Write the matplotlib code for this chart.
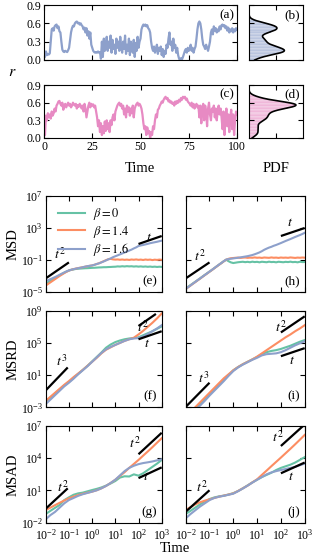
import numpy as np
import matplotlib
matplotlib.use("Agg")
import matplotlib.pyplot as plt

plt.rcParams['font.family'] = 'serif'
plt.rcParams['font.serif'] = ['Liberation Serif', 'DejaVu Serif']
plt.rcParams['mathtext.fontset'] = 'stix'
plt.rcParams['axes.linewidth'] = 0.8

C_GREEN, C_ORANGE, C_BLUE, C_PINK = '#66c2a5', '#fc8d62', '#8da0cb', '#e78ac3'

# ---------------- time series data (time step 0.5) ----------------
time_r = np.arange(0, 100.01, 0.5)
r_a = [0.12, 0.05, 0.14, 0.08, 0.10, 0.09, 0.11,
       0.30, 0.50, 0.52, 0.48, 0.55, 0.57, 0.58, 0.52, 0.55, 0.47, 0.45, 0.30, 0.17,
       0.14, 0.13, 0.15, 0.14, 0.13, 0.16, 0.20,
       0.32, 0.45, 0.52, 0.56, 0.55, 0.60, 0.62, 0.63, 0.60, 0.61, 0.58, 0.60, 0.57,
       0.55, 0.50, 0.53, 0.45, 0.52, 0.40, 0.47, 0.35, 0.45, 0.25, 0.20,
       0.15, 0.13, 0.12, 0.13, 0.12, 0.14, 0.12, 0.13,
       0.02, 0.30, 0.05, 0.35, 0.15, 0.22, 0.38, 0.15, 0.30, 0.20, 0.40, 0.12, 0.33, 0.18,
       0.25, 0.10, 0.35, 0.20, 0.30, 0.15, 0.38, 0.22, 0.12, 0.30, 0.18, 0.40, 0.10, 0.25,
       0.15, 0.35, 0.08, 0.30, 0.20, 0.12, 0.33, 0.05, 0.28, 0.15, 0.38, 0.20, 0.30, 0.35,
       0.50, 0.55, 0.58, 0.56, 0.58, 0.55, 0.57, 0.52, 0.50, 0.45, 0.30, 0.20,
       0.15, 0.22, 0.12, 0.18, 0.25, 0.10, 0.20, 0.15, 0.22, 0.08, 0.18, 0.05, 0.15, 0.10,
       0.25, 0.20, 0.35, 0.45, 0.25, 0.30, 0.15, 0.35, 0.20, 0.25, 0.12, 0.20, 0.08, 0.02,
       0.00, 0.03, 0.01, 0.05, 0.10, 0.15,
       0.18, 0.12, 0.20, 0.15, 0.18, 0.25, 0.15, 0.20, 0.12, 0.18, 0.22, 0.35, 0.50, 0.60,
       0.63, 0.60, 0.50, 0.35, 0.25, 0.22,
       0.18, 0.25, 0.20, 0.15, 0.22, 0.30,
       0.45, 0.50, 0.42, 0.55, 0.48, 0.52, 0.45, 0.50, 0.47, 0.55, 0.50, 0.57, 0.58, 0.55,
       0.57, 0.52, 0.55, 0.48, 0.53, 0.45, 0.50, 0.47, 0.52, 0.45, 0.50, 0.47, 0.52, 0.50]
r_c = [0.35, 0.05, 0.38, 0.30, 0.42, 0.35, 0.40, 0.33, 0.45, 0.38, 0.42, 0.50, 0.45, 0.55,
       0.58, 0.62, 0.63, 0.58, 0.55, 0.60, 0.48, 0.55, 0.58, 0.52, 0.56, 0.60, 0.55,
       0.58, 0.52, 0.55, 0.60, 0.57, 0.55, 0.58, 0.50, 0.56, 0.53, 0.58, 0.55, 0.50,
       0.55, 0.45, 0.58, 0.50, 0.35, 0.45, 0.55, 0.60, 0.52, 0.58, 0.55, 0.57, 0.52, 0.55,
       0.45, 0.35,
       0.20, 0.30, 0.10, 0.25, 0.05, 0.20, 0.08, 0.28, 0.12, 0.30, 0.15, 0.25, 0.10, 0.30,
       0.22,
       0.35, 0.40, 0.30, 0.45, 0.50, 0.55, 0.58, 0.60, 0.55, 0.58, 0.50, 0.55, 0.40,
       0.50, 0.35, 0.55, 0.45, 0.52, 0.38, 0.50, 0.42, 0.55, 0.35, 0.50, 0.55,
       0.58, 0.60, 0.55, 0.58, 0.55, 0.50, 0.40, 0.25,
       0.15, 0.20, 0.05, 0.18, 0.08, 0.12, 0.00, 0.10, 0.05, 0.20, 0.15, 0.30,
       0.40, 0.35, 0.48, 0.50, 0.55,
       0.58, 0.62, 0.60, 0.65, 0.68, 0.70, 0.66, 0.68, 0.62, 0.64, 0.60, 0.62,
       0.58, 0.60, 0.55, 0.62, 0.58, 0.63, 0.60, 0.65,
       0.62, 0.68, 0.65, 0.70, 0.68, 0.70, 0.65, 0.67, 0.62, 0.60,
       0.58, 0.55, 0.60, 0.52, 0.58, 0.50, 0.55, 0.58, 0.52, 0.55,
       0.35, 0.55, 0.25, 0.50, 0.58, 0.30, 0.55, 0.45, 0.20, 0.50, 0.60, 0.40,
       0.30, 0.50, 0.45, 0.55, 0.35, 0.50, 0.30, 0.45, 0.55, 0.40, 0.50, 0.35,
       0.15, 0.45, 0.05, 0.30, 0.50, 0.20, 0.40, 0.10, 0.35, 0.48, 0.15, 0.40, 0.05, 0.30,
       0.45, 0.40]

# ---------------- MSD (log10 values, grid step 0.1 in log10 t) ----------------
logt_fine = np.round(np.arange(-2.0, 3.001, 0.1), 2)
msd_e_green = [-3.95, -3.78, -3.60, -3.42, -3.25, -3.08, -2.90, -2.74, -2.58, -2.44, -2.32,
               -2.23, -2.17, -2.12, -2.09, -2.07, -2.05, -2.03, -2.02, -2.00, -1.98,
               -1.97, -1.95, -1.93, -1.92, -1.90, -1.90, -1.88, -1.87, -1.85, -1.84,
               -1.80, -1.82, -1.78, -1.81, -1.77, -1.80, -1.78, -1.82, -1.79, -1.83,
               -1.80, -1.84, -1.81, -1.85, -1.82, -1.86, -1.83, -1.87, -1.84, -1.86]
msd_e_orange = [-4.20, -4.00, -3.80, -3.60, -3.40, -3.20, -3.00, -2.82, -2.64, -2.47, -2.32,
                -2.22, -2.14, -2.07, -2.01, -1.95, -1.90, -1.84, -1.78, -1.73, -1.68,
                -1.60, -1.50, -1.40, -1.28, -1.15, -1.02, -0.90, -0.86, -0.92, -0.95,
                -0.93, -0.97, -0.94, -0.98, -0.95, -0.99, -0.94, -0.97, -0.93, -0.98,
                -0.95, -1.00, -0.94, -0.98, -0.95, -1.01, -0.96, -0.99, -0.95, -0.98]
msd_e_blue = [-3.63, -3.52, -3.40, -3.27, -3.14, -3.00, -2.85, -2.70, -2.56, -2.42, -2.30,
              -2.22, -2.15, -2.08, -2.02, -1.97, -1.90, -1.83, -1.77, -1.72, -1.68,
              -1.60, -1.50, -1.42, -1.30, -1.18, -1.05, -0.92, -0.80, -0.65, -0.53,
              -0.42, -0.30, -0.18, -0.06, 0.05, 0.18, 0.30, 0.45, 0.58, 0.75,
              0.82, 0.88, 0.95, 1.02, 1.10, 1.16, 1.22, 1.28, 1.35, 1.42]
msd_h_green = [-4.55, -4.35, -4.14, -3.93, -3.72, -3.51, -3.30, -3.08, -2.87, -2.66, -2.45,
               -2.24, -2.02, -1.80, -1.58, -1.37, -1.15, -0.97, -1.15, -1.30, -1.38,
               -1.33, -1.28, -1.25, -1.22, -1.27, -1.23, -1.28, -1.21, -1.26, -1.23,
               -1.29, -1.22, -1.25, -1.28, -1.21, -1.26, -1.24, -1.29, -1.22, -1.25,
               -1.28, -1.23, -1.26, -1.21, -1.27, -1.24, -1.29, -1.22, -1.26, -1.25]
msd_h_orange = [-4.62, -4.42, -4.20, -3.98, -3.77, -3.55, -3.34, -3.12, -2.90, -2.69, -2.47,
                -2.26, -2.04, -1.82, -1.60, -1.39, -1.17, -0.96, -0.85, -0.78, -0.75,
                -0.72, -0.70, -0.74, -0.71, -0.69, -0.73, -0.70, -0.72, -0.68, -0.72,
                -0.70, -0.74, -0.69, -0.71, -0.73, -0.68, -0.72, -0.70, -0.74, -0.69,
                -0.72, -0.70, -0.73, -0.68, -0.71, -0.74, -0.70, -0.72, -0.69, -0.71]
msd_h_blue = [-4.60, -4.40, -4.18, -3.96, -3.75, -3.53, -3.32, -3.10, -2.88, -2.67, -2.45,
              -2.24, -2.02, -1.80, -1.58, -1.37, -1.15, -0.95, -0.88, -0.84, -0.80,
              -0.76, -0.72, -0.67, -0.62, -0.57, -0.52, -0.45, -0.38, -0.28, -0.17,
              -0.05, 0.10, 0.28, 0.42, 0.55, 0.65, 0.78, 0.88, 1.00, 1.12,
              1.25, 1.38, 1.50, 1.62, 1.75, 1.88, 2.00, 2.12, 2.25, 2.40]

# ---------------- MSRD / MSAD (log10 values, grid step 0.2 in log10 t) ----------------
logt = np.round(np.arange(-2.0, 3.001, 0.2), 2)
msrd_f_green = [-2.3, -1.8, -1.3, -0.8, -0.3, 0.15, 0.65, 1.15, 1.65, 2.15, 2.7, 3.25, 3.8,
                4.4, 4.8, 5.1, 5.3, 5.45, 5.55, 5.6, 5.7, 5.95, 6.2, 6.45, 6.75, 7.05]
msrd_f_orange = [-2.2, -1.7, -1.2, -0.7, -0.2, 0.25, 0.75, 1.2, 1.65, 2.15, 2.65, 3.15, 3.7,
                 4.15, 4.45, 4.75, 5.0, 5.25, 5.45, 5.65, 6.05, 6.5, 7.0, 7.5, 8.05, 8.65]
msrd_f_blue = [-2.6, -2.05, -1.5, -0.95, -0.4, 0.05, 0.55, 1.1, 1.6, 2.1, 2.65, 3.2, 3.75,
               4.2, 4.5, 4.75, 5.0, 5.25, 5.45, 5.55, 5.6, 5.8, 6.1, 6.45, 6.8, 7.2]
msrd_i_green = [-4.4, -3.8, -3.2, -2.6, -2.0, -1.4, -0.8, -0.2, 0.4, 1.0, 1.6, 2.0, 2.35,
                2.65, 2.95, 3.25, 3.6, 3.85, 4.0, 4.1, 4.25, 4.45, 4.65, 4.9, 5.15, 5.35]
msrd_i_orange = [-4.2, -3.6, -3.0, -2.4, -1.8, -1.2, -0.6, 0.0, 0.6, 1.1, 1.6, 2.0, 2.35,
                 2.65, 2.95, 3.3, 3.7, 4.1, 4.5, 4.9, 5.3, 5.7, 6.05, 6.45, 6.8, 7.2]
msrd_i_blue = [-4.6, -4.0, -3.4, -2.8, -2.2, -1.55, -0.95, -0.35, 0.25, 0.9, 1.5, 1.95, 2.3,
               2.6, 2.9, 3.15, 3.45, 3.6, 3.65, 3.7, 3.85, 4.1, 4.4, 4.7, 4.95, 5.2]
msad_g_green = [-1.19, -0.9, -0.62, -0.35, 0.1, 0.36, 0.6, 0.73, 0.8, 0.92, 1.04, 1.15, 1.28,
                1.45, 1.65, 1.88, 2.2, 2.32, 2.3, 2.5, 2.38, 2.6, 2.9, 3.2, 3.5, 3.84]
msad_g_orange = [-0.82, -0.6, -0.37, -0.15, 0.07, 0.27, 0.43, 0.57, 0.69, 0.79, 0.89, 1.02,
                 1.2, 1.42, 1.7, 2.0, 2.35, 2.7, 3.1, 3.47, 3.84, 4.24, 4.63, 5.03, 5.45, 5.86]
msad_g_blue = [-1.69, -1.3, -1.0, -0.6, -0.2, 0.11, 0.3, 0.5, 0.65, 0.77, 0.89, 1.02, 1.2,
               1.42, 1.7, 2.0, 2.4, 2.8, 3.1, 3.3, 3.45, 3.55, 3.62, 3.7, 3.8, 3.9]
msad_j_green = [-1.19, -0.9, -0.6, -0.3, -0.02, 0.2, 0.35, 0.45, 0.52, 0.62, 0.75, 0.95, 1.2,
                1.47, 1.75, 2.0, 2.25, 2.45, 2.65, 2.9, 3.1, 3.25, 3.4, 3.6, 3.85, 4.1]
msad_j_orange = [-0.82, -0.55, -0.3, -0.1, 0.05, 0.17, 0.3, 0.42, 0.52, 0.62, 0.73, 0.95, 1.2,
                 1.45, 1.75, 2.04, 2.45, 2.85, 3.26, 3.66, 4.06, 4.47, 4.88, 5.3, 5.73, 6.17]
msad_j_blue = [-1.6, -1.2, -0.85, -0.5, -0.2, 0.1, 0.3, 0.42, 0.5, 0.6, 0.7, 0.93, 1.18,
               1.45, 1.73, 2.0, 2.25, 2.5, 2.68, 2.8, 2.9, 3.0, 3.1, 3.2, 3.35, 3.5]

beta_labels = [r'$\beta=0$', r'$\beta=1.4$', r'$\beta=1.6$']

# guide lines: (log10 t_start, log10 t_end, log10 y_start, slope, label, label log t, label log y)
guides_e = [(-2.0, -1.0, -3.3, 2, r'$t^2$', -1.38, -0.2), (2.0, 3.0, 1.0, 1, r'$t$', 2.45, 1.85)]
guides_h = [(-2.0, -1.0, -3.3, 2, r'$t^2$', -1.40, -0.55), (2.0, 3.0, 2.0, 1, r'$t$', 2.4, 3.7)]
guides_f = [(-2.05, -1.05, -1.05, 3, r'$t^3$', -1.3, 2.7), (2.0, 2.75, 7.1, 2, r'$t^2$', 2.2, 7.0),
            (2.0, 3.0, 5.45, 1, r'$t$', 2.35, 4.9)]
guides_i = [(-2.0, -1.0, -2.95, 3, r'$t^3$', -1.25, 0.6), (2.0, 3.0, 6.3, 2, r'$t^2$', 1.98, 7.0),
            (2.0, 3.0, 3.35, 1, r'$t$', 2.45, 2.85)]
guides_g = [(-2.05, -1.05, -0.8, 2, r'$t^2$', -1.28, 1.35), (2.0, 3.0, 4.37, 2, r'$t^2$', 1.85, 5.4),
            (2.0, 3.0, 2.15, 1, r'$t$', 2.33, 2.3)]
guides_j = [(-2.0, -1.0, -0.98, 2, r'$t^2$', -1.33, 1.35), (2.0, 3.0, 5.14, 2, r'$t^2$', 1.88, 6.0),
            (2.0, 3.0, 2.6, 1, r'$t$', 2.42, 2.3)]

FS_TICK = 8.5
FS_LAB = 10.5

fig = plt.figure(figsize=(3.14, 5.58), dpi=100)
W, H = 314.0, 558.0

def add_ax(x0, x1, y0, y1):
    return fig.add_axes([x0 / W, 1 - y1 / H, (x1 - x0) / W, (y1 - y0) / H])

def style(ax):
    ax.tick_params(direction='in', top=True, right=True, which='both', labelsize=FS_TICK,
                   length=3.5, width=0.8, pad=2)
    ax.minorticks_off()

# --- time series ---
ax_a = add_ax(44, 237, 5, 60)
ax_c = add_ax(44, 237, 85, 138)
ax_b = add_ax(249, 303, 5, 60)
ax_d = add_ax(249, 303, 85, 138)

def kde(data, grid, bw):
    d = np.asarray(data)
    z = (np.asarray(grid)[:, None] - d[None, :]) / bw
    return np.exp(-0.5 * z ** 2).sum(axis=1) / (len(d) * bw * np.sqrt(2 * np.pi))

rgrid = np.linspace(0, 0.9, 300)
bin_edges = np.linspace(0, 0.9, 37)
bin_centers = 0.5 * (bin_edges[1:] + bin_edges[:-1])
kde_bw = 0.045
xm = 1.15 * max(kde(r_a, rgrid, kde_bw).max(), kde(r_c, rgrid, kde_bw).max())

for ax_ts, ax_pdf, data, col, l1, l2 in [(ax_a, ax_b, r_a, C_BLUE, '(a)', '(b)'),
                                         (ax_c, ax_d, r_c, C_PINK, '(c)', '(d)')]:
    ax_ts.plot(time_r, data, color=col, lw=1.6)
    ax_ts.set_xlim(0, 100)
    ax_ts.set_ylim(0, 0.9)
    ax_ts.set_yticks([0.0, 0.3, 0.6, 0.9])
    ax_ts.set_yticklabels(['0.0', '0.3', '0.6', '0.9'])
    ax_ts.set_xticks([0, 25, 50, 75, 100])
    style(ax_ts)
    ax_ts.text(0.985, 0.93, l1, transform=ax_ts.transAxes, ha='right', va='top', fontsize=FS_TICK + 1)
    # smoothed (kernel-weighted) histogram of r, striped bars
    k_bins = kde(data, bin_centers, kde_bw)
    ax_pdf.barh(bin_centers, k_bins, height=bin_edges[1] - bin_edges[0], color=col, alpha=0.7,
                edgecolor='white', linewidth=0.3)
    k = kde(data, rgrid, kde_bw)
    ax_pdf.plot(k, rgrid, color='black', lw=1.2)
    ax_pdf.set_ylim(0, 0.9)
    ax_pdf.set_xlim(0, xm)
    ax_pdf.set_xticks([xm / 2])
    ax_pdf.set_yticks([0.0, 0.3, 0.6, 0.9])
    style(ax_pdf)
    ax_pdf.set_xticklabels([])
    ax_pdf.set_yticklabels([])
    ax_pdf.text(0.95, 0.93, l2, transform=ax_pdf.transAxes, ha='right', va='top', fontsize=FS_TICK + 1)

ax_a.set_xticklabels([])
fig.text(12 / W, 1 - 72 / H, r'$r$', fontsize=FS_LAB + 1, ha='center', va='center')
fig.text(140 / W, 1 - 168 / H, 'Time', fontsize=FS_LAB, ha='center', va='center')
fig.text(276 / W, 1 - 168 / H, 'PDF', fontsize=FS_LAB, ha='center', va='center')

# --- MSD grid ---
rows = [
    (196, 292, 'MSD', (1e-5, 1e7), [1e-5, 1e-1, 1e3, 1e7], logt_fine,
     [msd_e_green, msd_e_orange, msd_e_blue], [msd_h_green, msd_h_orange, msd_h_blue],
     guides_e, guides_h, '(e)', '(h)'),
    (310.7, 407.3, 'MSRD', (1e-3, 1e9), [1e-3, 1e1, 1e5, 1e9], logt,
     [msrd_f_green, msrd_f_orange, msrd_f_blue], [msrd_i_green, msrd_i_orange, msrd_i_blue],
     guides_f, guides_i, '(f)', '(i)'),
    (426, 522.7, 'MSAD', (1e-2, 1e7), [1e-2, 1e1, 1e4, 1e7], logt,
     [msad_g_green, msad_g_orange, msad_g_blue], [msad_j_green, msad_j_orange, msad_j_blue],
     guides_g, guides_j, '(g)', '(j)'),
]
cols = [C_GREEN, C_ORANGE, C_BLUE]
for ri, (y0, y1, ylab, ylim, yt, lt, left_data, right_data, gl, gr, lab_l, lab_r) in enumerate(rows):
    for ci, (x0, x1, dat, guides, plab) in enumerate([(45.7, 161.7, left_data, gl, lab_l),
                                                     (185.7, 304.7, right_data, gr, lab_r)]):
        ax = add_ax(x0, x1, y0, y1)
        for series, c, lb in zip(dat, cols, beta_labels):
            ax.plot(10.0 ** lt, 10.0 ** np.asarray(series), color=c, lw=1.5, label=lb)
        for (ls, le, ys, sl, txt, lx, ly) in guides:
            tt = np.array([ls, le])
            ax.plot(10.0 ** tt, 10.0 ** (ys + sl * (tt - ls)), color='black', lw=1.6,
                    solid_capstyle='butt')
            ax.text(10.0 ** lx, 10.0 ** ly, txt, fontsize=FS_TICK + 1.5, ha='center', va='center')
        ax.set_xscale('log')
        ax.set_yscale('log')
        ax.set_xlim(1e-2, 1e3)
        ax.set_ylim(*ylim)
        ax.set_xticks([1e-2, 1e-1, 1e0, 1e1, 1e2, 1e3])
        ax.set_yticks(yt)
        style(ax)
        ax.text(0.96, 0.05, plab, transform=ax.transAxes, ha='right', va='bottom', fontsize=FS_TICK + 1)
        if ci == 1:
            ax.set_yticklabels([])
        else:
            ax.set_ylabel(ylab, fontsize=FS_LAB, labelpad=1)
        if ri < 2:
            ax.set_xticklabels([])
        else:
            ax.tick_params(axis='x', pad=4)
        if ri == 0 and ci == 0:
            ax.legend(loc='upper left', frameon=False, fontsize=FS_TICK + 0.5, handlelength=2.2,
                      handletextpad=0.6, labelspacing=0.1, borderaxespad=0.2,
                      bbox_to_anchor=(0.04, 0.97))

fig.text(175 / W, 1 - 548 / H, 'Time', fontsize=FS_LAB, ha='center', va='center')

fig.savefig('out.png', dpi=100)
